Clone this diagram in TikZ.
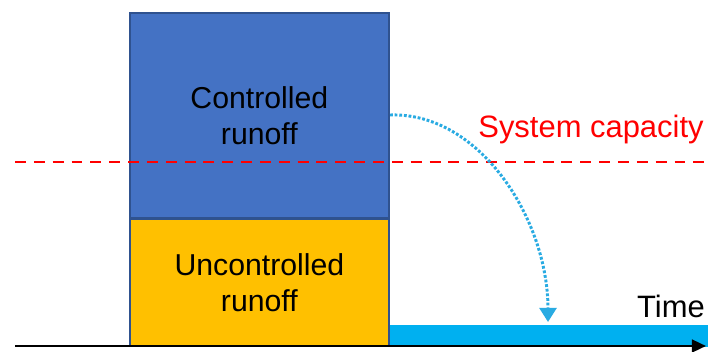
\documentclass[tikz,border=0pt]{standalone}
\usepackage{fontspec}
\setmainfont{Liberation Sans}
\usetikzlibrary{arrows.meta,positioning}

\definecolor{boxblue}{HTML}{4472C4}
\definecolor{boxedge}{HTML}{2F528F}
\definecolor{boxorange}{HTML}{FFC000}
\definecolor{barcyan}{HTML}{00B0F0}
\definecolor{flowblue}{HTML}{29ABE2}
\definecolor{capred}{HTML}{FF0000}

\begin{document}
\begin{tikzpicture}[
    x=0.025cm, y=-0.025cm,
    runoff/.style={draw=boxedge, line width=1.2pt, minimum width=6.475cm, align=center, font=\fontsize{21.5}{25.6}\selectfont, inner sep=0pt},
    label/.style={font=\fontsize{22}{26}\selectfont, inner sep=0pt}
]
\useasboundingbox (0,0) rectangle (708,352);

\node [runoff, fill=boxblue, minimum height=5.125cm, anchor=north west] (ctrl) at (129,12) {Controlled\\runoff};
\node [runoff, fill=boxorange, minimum height=3.175cm, below=0pt of ctrl] (unctrl) {Uncontrolled\\runoff};
\node [fill=barcyan, minimum width=8cm, minimum height=0.55cm, inner sep=0pt, anchor=south west] (bar) at (unctrl.south east) {};

\coordinate (capL) at (15,162);
\coordinate (capR) at (708,162);
\draw [capred, line width=2.1pt, dash pattern=on 7.8pt off 5.6pt] (capL) -- (capR);
\node [label, text=capred] (cap) at (591,130) {System capacity};

\coordinate (origin) at (15,346);
\coordinate (tend) at (706,346);
\draw [line width=1.8pt, -{Triangle[length=10pt, width=9pt]}] (origin) -- (tend);
\node [label] (time) at (671,306) {Time};

\coordinate (flowS) at (390,115);
\coordinate (flowE) at (548,322);
\draw [flowblue, line width=2.1pt, dash pattern=on 2pt off 1.3pt, -{Triangle[length=10pt, width=12pt]}] (flowS) .. controls (480,112) and (548,220) .. (flowE);

\end{tikzpicture}
\end{document}
